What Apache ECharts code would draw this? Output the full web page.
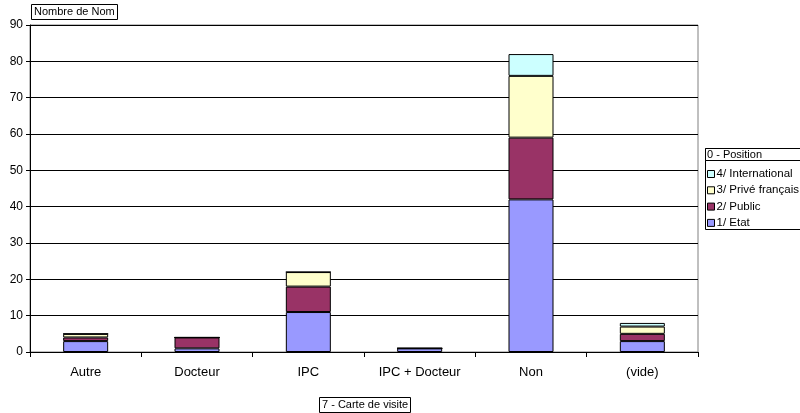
<!DOCTYPE html>
<html>
<head>
<meta charset="utf-8">
<script src="https://cdn.jsdelivr.net/npm/echarts@6/dist/echarts.min.js"></script>
<style>
  html, body { margin: 0; padding: 0; background: #fff; }
  #chart { width: 800px; height: 413px; }
</style>
</head>
<body>
<div id="chart"></div>
<script>
// Carte de visite categories and counts per position
var categories = ['Autre', 'Docteur', 'IPC', 'IPC + Docteur', 'Non', '(vide)'];
var etat          = [3, 1, 11, 1, 42, 3];
var publicVals    = [1, 3, 7, 0, 17, 2];
var priveFrancais = [1, 0, 4, 0, 17, 2];
var international = [0, 0, 0, 0, 6, 1];
var yTicks = [0, 10, 20, 30, 40, 50, 60, 70, 80, 90];

var FONT = '"Liberation Sans", Arial, sans-serif';

var chart = echarts.init(document.getElementById('chart'), null, { renderer: 'canvas' });

function barSeries(name, data, color) {
  return {
    name: name,
    type: 'bar',
    stack: 'total',
    barWidth: 45,
    data: data,
    itemStyle: { color: color, borderColor: '#000', borderWidth: 1 },
    emphasis: { disabled: true },
    animation: false
  };
}

chart.setOption({
  animation: false,
  backgroundColor: '#fff',
  grid: {
    left: 30, right: 102, top: 25, bottom: 61,
    show: true, borderColor: '#808080', borderWidth: 1, backgroundColor: 'transparent'
  },
  xAxis: {
    type: 'category',
    data: categories,
    boundaryGap: true,
    axisLine: { show: true, lineStyle: { color: '#000', width: 1 } },
    axisTick: { show: true, length: 5, lineStyle: { color: '#000' } },
    axisLabel: { color: '#000', fontFamily: FONT, fontSize: 13, margin: 14 }
  },
  yAxis: {
    type: 'value',
    min: yTicks[0],
    max: yTicks[yTicks.length - 1],
    interval: 10,
    axisLine: { show: true, lineStyle: { color: '#000', width: 1 } },
    axisTick: { show: true, length: 4, lineStyle: { color: '#000' } },
    axisLabel: { color: '#000', fontFamily: FONT, fontSize: 12, margin: 7 },
    splitLine: { show: true, lineStyle: { color: '#000', width: 1 } }
  },
  legend: {
    orient: 'vertical',
    left: 707,
    top: 168,
    padding: 0,
    itemWidth: 7,
    itemHeight: 7,
    itemGap: 4.3,
    icon: 'rect',
    selectedMode: false,
    itemStyle: { borderWidth: 1, borderColor: '#000' },
    textStyle: { color: '#000', fontFamily: FONT, fontSize: 11.5, lineHeight: 11, padding: [0, 0, 0, -3] },
    data: ['4/ International', '3/ Privé français', '2/ Public', '1/ Etat']
  },
  series: [
    barSeries('1/ Etat', etat, '#9999FF'),
    barSeries('2/ Public', publicVals, '#993366'),
    barSeries('3/ Privé français', priveFrancais, '#FFFFCC'),
    barSeries('4/ International', international, '#CCFFFF')
  ],
  graphic: [
    // value field button
    {
      type: 'rect', shape: { x: 31.5, y: 4.5, width: 86, height: 15 },
      style: { fill: '#fff', stroke: '#000', lineWidth: 1 }, z: 10
    },
    {
      type: 'text', x: 34, y: 12,
      style: { text: 'Nombre de Nom', fill: '#000', font: '11px ' + FONT, textVerticalAlign: 'middle' }, z: 11
    },
    // category field button
    {
      type: 'rect', shape: { x: 319.5, y: 397.5, width: 91, height: 15 },
      style: { fill: '#fff', stroke: '#000', lineWidth: 1 }, z: 10
    },
    {
      type: 'text', x: 322, y: 405,
      style: { text: '7 - Carte de visite', fill: '#000', font: '11px ' + FONT, textVerticalAlign: 'middle' }, z: 11
    },
    // legend frame with series field header
    {
      type: 'rect', shape: { x: 705.5, y: 148.5, width: 100, height: 81 },
      style: { fill: 'transparent', stroke: '#000', lineWidth: 1 }, z: 10
    },
    {
      type: 'rect', shape: { x: 705.5, y: 148.5, width: 100, height: 12 },
      style: { fill: '#fff', stroke: '#000', lineWidth: 1 }, z: 10
    },
    {
      type: 'text', x: 707, y: 155,
      style: { text: '0 - Position', fill: '#000', font: '11px ' + FONT, textVerticalAlign: 'middle' }, z: 11
    }
  ]
});
</script>
</body>
</html>
